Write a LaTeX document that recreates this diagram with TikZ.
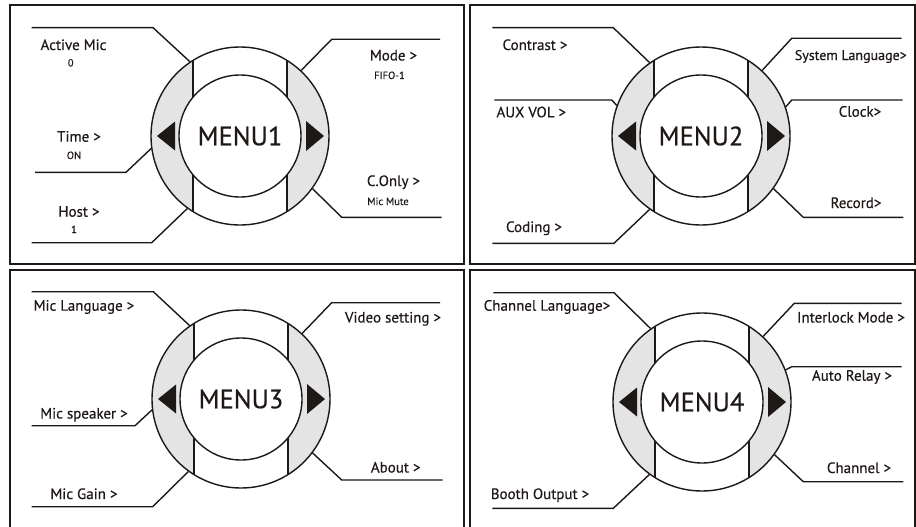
\documentclass[tikz,border=0pt]{standalone}
\usepackage{fontspec}
\setmainfont{PT Sans}[FakeBold=0.4]
\definecolor{bandgray}{RGB}{228,228,228}
\definecolor{ink}{RGB}{30,24,22}
\tikzset{
  ring/.style={circle, draw=ink, line width=1.4pt, inner sep=0pt},
  ringline/.style={draw=ink, line width=1.4pt},
  leader/.style={draw=ink, line width=1.4pt},
  frame/.style={draw=ink, line width=1.7pt},
  lbl/.style={anchor=base, inner sep=0pt, font=\fontsize{15}{16}\selectfont, text=ink},
  val/.style={anchor=base, inner sep=0pt, font=\fontsize{10.5}{11}\selectfont, text=ink},
  menutext/.style={font=\fontsize{26.5}{28}\selectfont, text=ink},
  tri/.style={fill=ink}
}
\newcommand\mydial[4]{%
  \begin{scope}[shift={(#2,#3)}]
    \fill[bandgray] (0,0) circle[radius=89pt];
    \begin{scope}
      \clip (0,0) circle[radius=89pt];
      \fill[white] (-47,-92) rectangle (47,92);
    \end{scope}
    \fill[white] (0,0) circle[radius=61pt];
    \draw[ringline] (-47,-75.6) -- (-47,-38.9) (47,-75.6) -- (47,-38.9)
                    (-47,75.6) -- (-47,38.9) (47,75.6) -- (47,38.9);
    \fill[tri] (-83,0) -- (-65,-14.5) -- (-65,14.5) -- cycle;
    \fill[tri] (84,0) -- (66,-15) -- (66,15) -- cycle;
  \end{scope}
  \node[ring, minimum size=178pt] (#1o) at (#2,#3) {};
  \node[ring, minimum size=122pt, menutext] (#1i) at (#2,#3) {#4};
}
\begin{document}
\begin{tikzpicture}[x=1pt, y=-1pt]
\useasboundingbox (0,0) rectangle (916,527);
\fill[white] (0,0) rectangle (916,527);
% frames
\draw[frame] (10,5) rectangle (464,264);
\draw[frame] (470,5) rectangle (915,264);
\draw[frame] (10,270) rectangle (464,535);
\draw[frame] (470,270) rectangle (915,535);
% dials
\mydial{pa}{240}{136}{MENU1}
\mydial{pb}{701}{136}{MENU2}
\mydial{pc}{241}{399}{MENU3}
\mydial{pd}{702}{402}{MENU4}
% ---------- panel 1
\coordinate (a1) at (31.7,27.7); \coordinate (a2) at (153,27.7);
\draw[leader] (a1) -- (a2) -- (pao.124);
\coordinate (b1) at (35,172.3); \coordinate (b2) at (126,172.3);
\draw[leader] (b1) -- (b2) -- (pao.188);
\coordinate (c1) at (31.7,242.7); \coordinate (c2) at (151.7,242.7);
\draw[leader] (c1) -- (c2) -- (pao.234.5);
\coordinate (d1) at (331.7,39.3); \coordinate (d2) at (440,39.3);
\draw[leader] (pao.47) -- (d1) -- (d2);
\coordinate (e1) at (341.7,217.3); \coordinate (e2) at (441.7,217.3);
\draw[leader] (pao.324) -- (e1) -- (e2);
\node[lbl] (t1) at (73.5,50) {Active Mic};
\node[val] (v1) at (70.7,66.5) {0};
\node[lbl] (t2) at (79,141.7) {Time >};
\node[val] (v2) at (74,159) {ON};
\node[lbl] (t3) at (79,216.7) {Host >};
\node[val] (v3) at (74,233) {1};
\node[lbl] (t4) at (393.5,60.5) {Mode >};
\node[val] (v4) at (389.5,79) {FIFO-1};
\node[lbl] (t5) at (393.5,186) {C.Only >};
\node[val] (v5) at (388,205) {Mic Mute};
% ---------- panel 2
\coordinate (f1) at (492.3,27.7); \coordinate (f2) at (613.3,27.7);
\draw[leader] (f1) -- (f2) -- (pbo.125);
\coordinate (g1) at (494.3,100); \coordinate (g2) at (611.7,100);
\draw[leader] (g1) -- (g2) -- (pbo.160);
\coordinate (h1) at (492.3,243.3); \coordinate (h2) at (614,243.3);
\draw[leader] (h1) -- (h2) -- (pbo.235);
\coordinate (i1) at (791.7,38.3); \coordinate (i2) at (901.7,38.3);
\draw[leader] (pbo.47) -- (i1) -- (i2);
\coordinate (j1) at (791.7,100); \coordinate (j2) at (902.7,100);
\draw[leader] (pbo.19.5) -- (j1) -- (j2);
\coordinate (k1) at (803.3,217.3); \coordinate (k2) at (903.3,217.3);
\draw[leader] (pbo.324.5) -- (k1) -- (k2);
\node[lbl] (t6) at (535,50) {Contrast >};
\node[lbl] (t7) at (531.3,117.3) {AUX VOL >};
\node[lbl] (t8) at (534,232) {Coding >};
\node[lbl, font=\fontsize{14}{15}\selectfont] (t9) at (850.8,60) {System Language>};
\node[lbl] (t10) at (860,116.7) {Clock>};
\node[lbl] (t11) at (856,208) {Record>};
% ---------- panel 3
\coordinate (l1) at (31.7,291.7); \coordinate (l2) at (153.3,291.7);
\draw[leader] (l1) -- (l2) -- (pco.125.5);
\coordinate (m1) at (31.7,425.7); \coordinate (m2) at (135,425.7);
\draw[leader] (m1) -- (m2) -- (pco.187);
\coordinate (n1) at (31.7,506.7); \coordinate (n2) at (152.7,506.7);
\draw[leader] (n1) -- (n2) -- (pco.234.5);
\coordinate (o1) at (331.7,302.7); \coordinate (o2) at (440,302.7);
\draw[leader] (pco.47) -- (o1) -- (o2);
\coordinate (q1) at (341.7,480); \coordinate (q2) at (442.7,480);
\draw[leader] (pco.323.5) -- (q1) -- (q2);
\node[lbl] (t12) at (84,310.7) {Mic Language >};
\node[lbl] (t13) at (84,418.5) {Mic speaker >};
\node[lbl] (t14) at (84,499) {Mic Gain >};
\node[lbl] (t15) at (393,322.5) {Video setting >};
\node[lbl] (t16) at (395.7,472.5) {About >};
% ---------- panel 4
\coordinate (r1) at (493.3,292.7); \coordinate (r2) at (614,292.7);
\draw[leader] (r1) -- (r2) -- (pdo.125.5);
\coordinate (s1) at (492.3,508.3); \coordinate (s2) at (613.3,508.3);
\draw[leader] (s1) -- (s2) -- (pdo.234);
\coordinate (u1) at (794.3,303.3); \coordinate (u2) at (901.7,303.3);
\draw[leader] (pdo.47) -- (u1) -- (u2);
\coordinate (w1) at (791.7,366.7); \coordinate (w2) at (901.7,366.7);
\draw[leader] (pdo.21) -- (w1) -- (w2);
\coordinate (z1) at (803.3,481.7); \coordinate (z2) at (903.3,481.7);
\draw[leader] (pdo.324) -- (z1) -- (z2);
\node[lbl] (t17) at (547,310.7) {Channel Language>};
\node[lbl] (t18) at (540,499) {Booth Output >};
\node[lbl] (t19) at (851,322.5) {Interlock Mode >};
\node[lbl] (t20) at (852,380.7) {Auto Relay >};
\node[lbl] (t21) at (859,473) {Channel >};
\end{tikzpicture}
\end{document}
